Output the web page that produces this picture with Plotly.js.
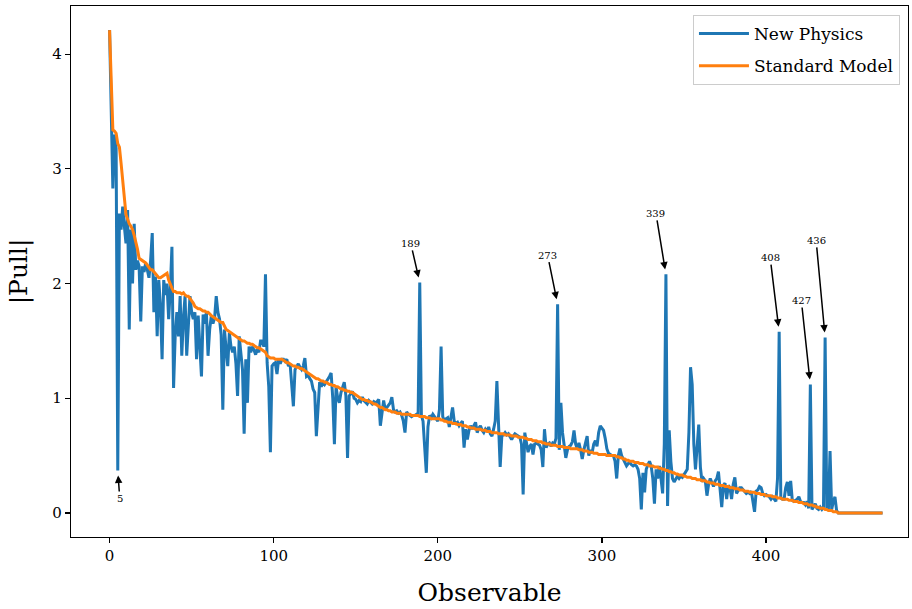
<!DOCTYPE html>
<html>
<head>
<meta charset="utf-8">
<script src="https://cdn.plot.ly/plotly-3.0.1.min.js"></script>
<style>html,body{margin:0;padding:0;background:#fff;}#chart{width:912px;height:609px;}</style>
</head>
<body>
<div id="chart"></div>
<script>
// |Pull| per observable index
var newPhysics = [
4.21,3.35,2.83,3.30,3.18,0.37,2.61,2.47,2.67,2.50,
2.35,2.64,1.60,2.47,2.00,2.52,2.12,2.20,2.15,1.67,
2.15,2.10,2.18,2.12,2.05,2.20,2.44,1.75,2.06,1.54,
2.03,1.80,1.34,2.03,1.90,2.00,1.69,1.95,2.32,1.09,
1.55,1.75,1.54,1.89,1.37,1.70,1.89,1.37,1.70,1.89,
1.75,1.69,1.75,1.34,1.72,1.40,1.19,1.73,1.65,1.75,
1.37,1.60,1.72,1.65,1.70,1.89,1.75,1.69,1.55,0.90,
1.60,1.43,1.28,1.57,1.45,1.40,1.45,1.30,1.02,1.54,
1.40,1.25,0.69,1.34,0.96,1.45,1.40,1.45,1.42,1.38,
1.43,1.40,1.50,1.50,1.45,2.08,1.31,1.10,0.53,1.28,
1.30,1.31,1.21,1.34,1.30,1.34,1.34,1.32,1.34,1.28,
1.30,1.10,0.93,1.25,1.28,1.30,1.27,1.25,1.28,1.35,
1.19,1.20,1.17,1.15,1.08,1.05,0.67,0.95,1.14,1.10,
1.14,1.12,1.14,1.16,1.19,1.22,1.00,0.60,1.10,1.00,
0.96,1.05,1.10,1.14,1.02,0.48,1.02,1.04,1.06,1.00,
0.99,0.96,0.98,0.97,1.01,0.98,0.96,0.95,0.98,0.96,
0.95,0.97,0.96,0.97,0.99,0.76,0.90,0.98,0.90,0.92,
0.93,0.96,1.01,0.90,0.88,0.89,0.87,0.88,0.85,0.80,
0.70,0.88,0.86,0.85,0.84,0.85,0.85,0.86,0.85,2.01,
0.85,0.80,0.60,0.35,0.75,0.85,0.83,0.86,0.84,0.82,
0.80,0.90,1.45,0.84,0.80,0.82,0.83,0.75,0.85,0.92,
0.80,0.78,0.79,0.76,0.78,0.80,0.57,0.73,0.64,0.72,
0.76,0.73,0.76,0.79,0.70,0.74,0.76,0.72,0.70,0.73,
0.71,0.75,0.69,0.67,0.73,0.80,1.15,0.70,0.40,0.67,
0.68,0.70,0.68,0.69,0.66,0.64,0.67,0.69,0.68,0.67,
0.66,0.60,0.16,0.70,0.63,0.53,0.58,0.60,0.51,0.60,
0.61,0.60,0.59,0.55,0.40,0.73,0.57,0.60,0.61,0.58,
0.61,0.60,0.65,1.82,0.55,0.96,0.70,0.59,0.48,0.55,
0.58,0.59,0.62,0.72,0.60,0.56,0.61,0.55,0.47,0.55,
0.60,0.67,0.50,0.55,0.52,0.60,0.63,0.58,0.70,0.76,
0.74,0.72,0.65,0.56,0.52,0.51,0.50,0.50,0.45,0.30,
0.50,0.56,0.50,0.47,0.44,0.41,0.43,0.44,0.42,0.41,
0.42,0.41,0.38,0.30,0.03,0.35,0.18,0.38,0.42,0.45,
0.41,0.30,0.08,0.38,0.30,0.41,0.30,0.17,0.60,2.08,
0.06,0.72,0.45,0.30,0.27,0.30,0.32,0.30,0.32,0.31,
0.33,0.35,0.38,0.70,1.27,1.12,0.60,0.38,0.60,0.77,
0.40,0.27,0.30,0.28,0.15,0.25,0.30,0.27,0.23,0.28,
0.30,0.36,0.18,0.05,0.24,0.26,0.12,0.24,0.22,0.12,
0.25,0.31,0.17,0.20,0.22,0.22,0.20,0.18,0.17,0.18,
0.17,0.19,0.10,0.01,0.19,0.20,0.23,0.22,0.17,0.15,
0.16,0.15,0.14,0.12,0.14,0.12,0.10,0.30,1.58,0.13,
0.12,0.12,0.22,0.27,0.15,0.28,0.11,0.10,0.11,0.12,
0.14,0.10,0.09,0.09,0.07,0.10,0.04,1.12,0.03,0.06,
0.08,0.04,0.03,0.05,0.03,0.05,1.53,0.05,0.03,0.54,
0.03,0.10,0.14,0.02,0,0,0,0,0,0,
0,0,0,0,0,0,0,0,0,0,
0,0,0,0,0,0,0,0,0,0,
0,0
];
var standardModel = [
4.21,3.80,3.34,3.33,3.31,3.22,3.19,3.05,2.88,2.72,
2.60,2.56,2.52,2.50,2.47,2.42,2.37,2.30,2.22,2.21,
2.20,2.19,2.18,2.16,2.14,2.12,2.12,2.10,2.08,2.06,
2.05,2.05,2.06,2.07,2.08,2.09,2.03,1.99,1.96,1.93,
1.93,1.92,1.92,1.92,1.91,1.92,1.90,1.89,1.89,1.87,
1.86,1.83,1.80,1.79,1.78,1.78,1.77,1.76,1.76,1.75,
1.75,1.73,1.72,1.71,1.70,1.69,1.68,1.67,1.66,1.66,
1.63,1.60,1.59,1.58,1.57,1.56,1.55,1.54,1.53,1.52,
1.51,1.50,1.50,1.49,1.48,1.48,1.47,1.47,1.46,1.45,
1.44,1.44,1.43,1.42,1.41,1.40,1.37,1.36,1.35,1.35,
1.35,1.34,1.34,1.34,1.34,1.34,1.33,1.32,1.31,1.31,
1.30,1.29,1.28,1.28,1.27,1.27,1.26,1.26,1.25,1.24,
1.23,1.22,1.21,1.20,1.19,1.18,1.17,1.17,1.16,1.15,
1.15,1.14,1.14,1.13,1.12,1.12,1.11,1.11,1.10,1.10,
1.09,1.08,1.08,1.07,1.07,1.06,1.06,1.05,1.05,1.04,
1.03,1.02,1.01,1.00,0.99,0.99,0.98,0.98,0.97,0.97,
0.96,0.95,0.95,0.94,0.93,0.92,0.92,0.91,0.90,0.90,
0.89,0.89,0.88,0.88,0.88,0.87,0.87,0.87,0.86,0.86,
0.86,0.86,0.86,0.86,0.85,0.85,0.85,0.85,0.85,0.84,
0.84,0.84,0.84,0.83,0.83,0.83,0.82,0.82,0.82,0.82,
0.82,0.82,0.81,0.81,0.80,0.80,0.79,0.79,0.79,0.78,
0.78,0.78,0.77,0.77,0.77,0.76,0.76,0.76,0.75,0.75,
0.74,0.74,0.74,0.73,0.73,0.73,0.73,0.72,0.72,0.72,
0.71,0.71,0.71,0.70,0.70,0.70,0.70,0.69,0.69,0.69,
0.69,0.68,0.68,0.68,0.68,0.67,0.67,0.67,0.67,0.66,
0.66,0.66,0.66,0.65,0.65,0.64,0.64,0.64,0.63,0.63,
0.63,0.62,0.62,0.62,0.61,0.61,0.60,0.60,0.60,0.59,
0.59,0.59,0.59,0.58,0.58,0.58,0.58,0.57,0.57,0.57,
0.57,0.56,0.56,0.56,0.56,0.56,0.55,0.55,0.55,0.54,
0.54,0.54,0.53,0.53,0.53,0.52,0.52,0.52,0.51,0.51,
0.51,0.51,0.51,0.50,0.50,0.50,0.50,0.50,0.50,0.49,
0.49,0.48,0.48,0.47,0.47,0.46,0.46,0.45,0.45,0.45,
0.44,0.44,0.44,0.43,0.43,0.43,0.42,0.42,0.42,0.41,
0.41,0.41,0.40,0.40,0.40,0.39,0.39,0.38,0.38,0.37,
0.37,0.36,0.36,0.35,0.35,0.34,0.34,0.33,0.33,0.33,
0.32,0.32,0.31,0.31,0.31,0.30,0.30,0.30,0.29,0.29,
0.29,0.28,0.28,0.28,0.27,0.27,0.26,0.26,0.26,0.25,
0.25,0.25,0.24,0.24,0.24,0.23,0.23,0.23,0.22,0.22,
0.22,0.21,0.21,0.21,0.20,0.20,0.20,0.19,0.19,0.19,
0.18,0.18,0.18,0.18,0.17,0.17,0.17,0.16,0.16,0.16,
0.15,0.15,0.15,0.15,0.14,0.14,0.14,0.13,0.13,0.13,
0.12,0.12,0.12,0.12,0.11,0.11,0.11,0.10,0.10,0.10,
0.09,0.09,0.09,0.08,0.08,0.08,0.07,0.07,0.07,0.06,
0.06,0.05,0.05,0.04,0.04,0.04,0.03,0.03,0.02,0.02,
0.02,0.01,0.01,0.01,0,0,0,0,0,0,
0,0,0,0,0,0,0,0,0,0,
0,0,0,0,0,0,0,0,0,0,
0,0
];
// annotated observables: index, text offset (px)
var labelIdx = [5, 189, 273, 339, 408, 427, 436];
var labelAx  = [2, -9, -10, -10, -9, -9, -9];
var labelAy  = [28, -39, -49, -61, -74, -84, -97];
var xTicks = [0, 100, 200, 300, 400];
var yTicks = [0, 1, 2, 3, 4];

var idx = newPhysics.map(function(_, i){ return i; });
var FONT = "DejaVu Serif, serif";

var traces = [
  {x: idx, y: newPhysics, type: 'scatter', mode: 'lines', name: 'New Physics',
   legendgroup: 'np', line: {color: '#1f77b4', width: 3}},
  {x: idx, y: standardModel, type: 'scatter', mode: 'lines', name: 'Standard Model',
   legendgroup: 'sm', line: {color: '#ff7f0e', width: 3}}
];

var annotations = labelIdx.map(function(k, j){
  return {x: k, y: newPhysics[k], xref: 'x', yref: 'y', text: String(k),
    showarrow: true, arrowhead: 2, arrowsize: 1, arrowwidth: 1.5, arrowcolor: '#000',
    ax: labelAx[j], ay: labelAy[j], standoff: 5,
    font: {family: FONT, size: 10, color: '#000'}};
});

var layout = {
  width: 912, height: 609,
  margin: {l: 71, r: 4, t: 6, b: 72},
  paper_bgcolor: '#fff', plot_bgcolor: '#fff',
  font: {family: FONT, color: '#000'},
  showlegend: true,
  legend: {x: 0.9904, y: 0.983, xanchor: 'right', yanchor: 'top',
    bgcolor: 'rgba(255,255,255,0.8)', bordercolor: '#cccccc', borderwidth: 1,
    tracegroupgap: 7, itemwidth: 50,
    font: {family: FONT, size: 17}},
  xaxis: {range: [-23.5, 486.5], tickvals: xTicks, ticktext: xTicks.map(String),
    showgrid: false, zeroline: false, showline: true, linecolor: '#000', linewidth: 1.2,
    mirror: true, ticks: 'outside', ticklen: 5, tickwidth: 1.2, tickcolor: '#000',
    tickfont: {family: FONT, size: 15},
    title: {text: 'Observable', font: {family: FONT, size: 25}, standoff: 19}},
  yaxis: {range: [-0.21, 4.42], tickvals: yTicks, ticktext: yTicks.map(String),
    showgrid: false, zeroline: false, showline: true, linecolor: '#000', linewidth: 1.2,
    mirror: true, ticks: 'outside', ticklen: 5, tickwidth: 1.2, tickcolor: '#000',
    tickfont: {family: FONT, size: 15},
    title: {text: '|Pull|', font: {family: FONT, size: 25}, standoff: 17}},
  annotations: annotations
};

Plotly.newPlot('chart', traces, layout, {staticPlot: true, displayModeBar: false});
</script>
</body>
</html>
